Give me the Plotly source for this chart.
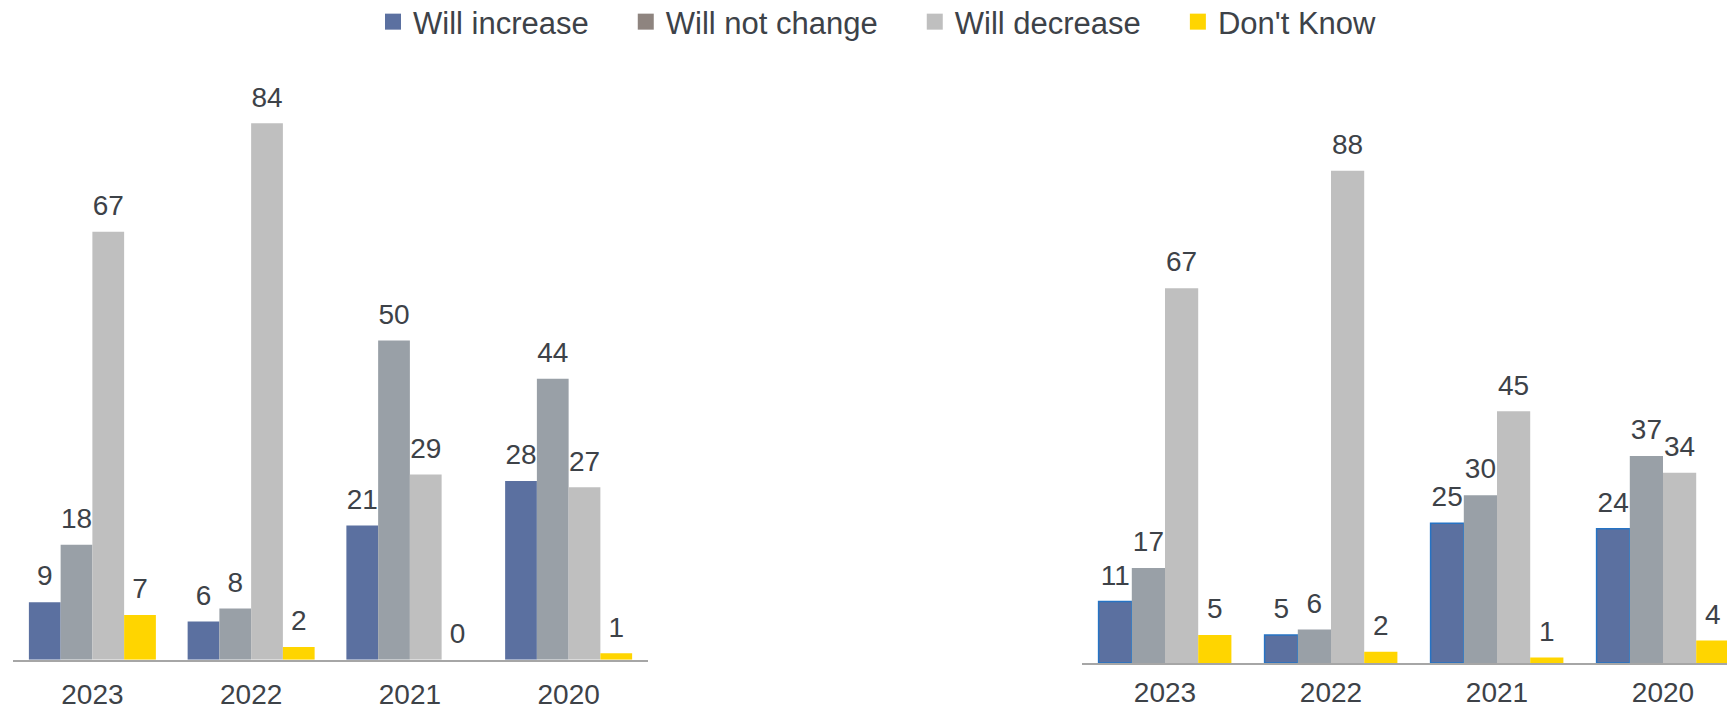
import plotly.graph_objects as go

# ---- data -------------------------------------------------------------
years = ["2023", "2022", "2021", "2020"]
series_names = ["Will increase", "Will not change", "Will decrease", "Don't Know"]

left_increase = [9, 6, 21, 28]
left_no_change = [18, 8, 50, 44]
left_decrease = [67, 84, 29, 27]
left_dont_know = [7, 2, 0, 1]

right_increase = [11, 5, 25, 24]
right_no_change = [17, 6, 30, 37]
right_decrease = [67, 88, 45, 34]
right_dont_know = [5, 2, 1, 4]

# ---- styling ----------------------------------------------------------
bar_colors = ["#5b70a0", "#99a0a7", "#bfbfbf", "#ffd500"]
legend_colors = ["#5b70a0", "#8e847f", "#bfbfbf", "#ffd500"]
text_color = "#3d4248"
font_family = "Arial, Liberation Sans, sans-serif"
label_size = 28
legend_size = 31
W, H = 1727, 709

fig = go.Figure()

panels = [
    ("x", "y", [left_increase, left_no_change, left_decrease, left_dont_know], None),
    ("x2", "y2", [right_increase, right_no_change, right_decrease, right_dont_know], "#2673c4"),
]

for xa, ya, values, outline in panels:
    for i, (name, vals) in enumerate(zip(series_names, values)):
        line = dict(width=0)
        if outline and i == 0:
            line = dict(width=1.5, color=outline)
        fig.add_trace(go.Bar(
            x=years, y=vals, name=name, xaxis=xa, yaxis=ya,
            marker=dict(color=bar_colors[i], line=line),
            offsetgroup=str(i), showlegend=False, hoverinfo="skip",
        ))
        # value labels sitting above each bar
        fig.add_trace(go.Scatter(
            x=years, y=vals, xaxis=xa, yaxis=ya,
            mode="markers+text", text=[str(v) for v in vals],
            textposition="top center",
            textfont=dict(size=label_size, color=text_color, family=font_family),
            marker=dict(size=14, opacity=0),
            offsetgroup=str(i), orientation="v",
            cliponaxis=False, showlegend=False, hoverinfo="skip",
        ))

# legend entries (own hidden axes so they take no slot in the groups)
pad = "\u00a0" * 3 + "\u2009"
for i, name in enumerate(series_names):
    fig.add_trace(go.Scatter(
        x=[None], y=[None], xaxis="x3", yaxis="y3",
        mode="markers", name=name + (pad if i < len(series_names) - 1 else ""),
        marker=dict(symbol="square", size=16, color=legend_colors[i], line=dict(width=0)),
        hoverinfo="skip",
    ))

axis_line = dict(showline=True, linecolor="#a6a6a6", linewidth=2, showgrid=False,
                 zeroline=False, ticks="", type="category", fixedrange=True,
                 automargin=False,
                 tickfont=dict(size=label_size, color=text_color, family=font_family))

fig.update_layout(
    width=W, height=H,
    margin=dict(l=0, r=0, t=0, b=0, pad=0, autoexpand=False),
    paper_bgcolor="white", plot_bgcolor="white",
    barmode="group", bargap=0.2, bargroupgap=0,
    scattermode="group", scattergap=0.2,
    font=dict(family=font_family, color=text_color),
    xaxis=dict(domain=[13 / W, 648 / W], range=[-0.5, 3.5], anchor="y",
               ticklabelstandoff=9, **axis_line),
    yaxis=dict(domain=[(H - 659.7) / H, 1], range=[0, 659.7 / 6.386], visible=False,
               anchor="x", fixedrange=True),
    xaxis2=dict(domain=[1082 / W, 1], range=[-0.5, -0.5 + (W - 1082) / 166], anchor="y2",
                ticklabelstandoff=3, **axis_line),
    yaxis2=dict(domain=[(H - 663) / H, 1], range=[0, 663 / 5.594], visible=False,
                anchor="x2", fixedrange=True),
    xaxis3=dict(domain=[0, 0.01], visible=False, anchor="y3"),
    yaxis3=dict(domain=[0, 0.01], visible=False, anchor="x3"),
    legend=dict(orientation="h", x=373 / W, xanchor="left", y=1 + 5 / H, yanchor="top",
                font=dict(size=legend_size, color=text_color, family=font_family),
                bgcolor="rgba(0,0,0,0)", borderwidth=0, itemclick=False,
                itemdoubleclick=False),
    showlegend=True,
)

fig.write_html("out.html")
